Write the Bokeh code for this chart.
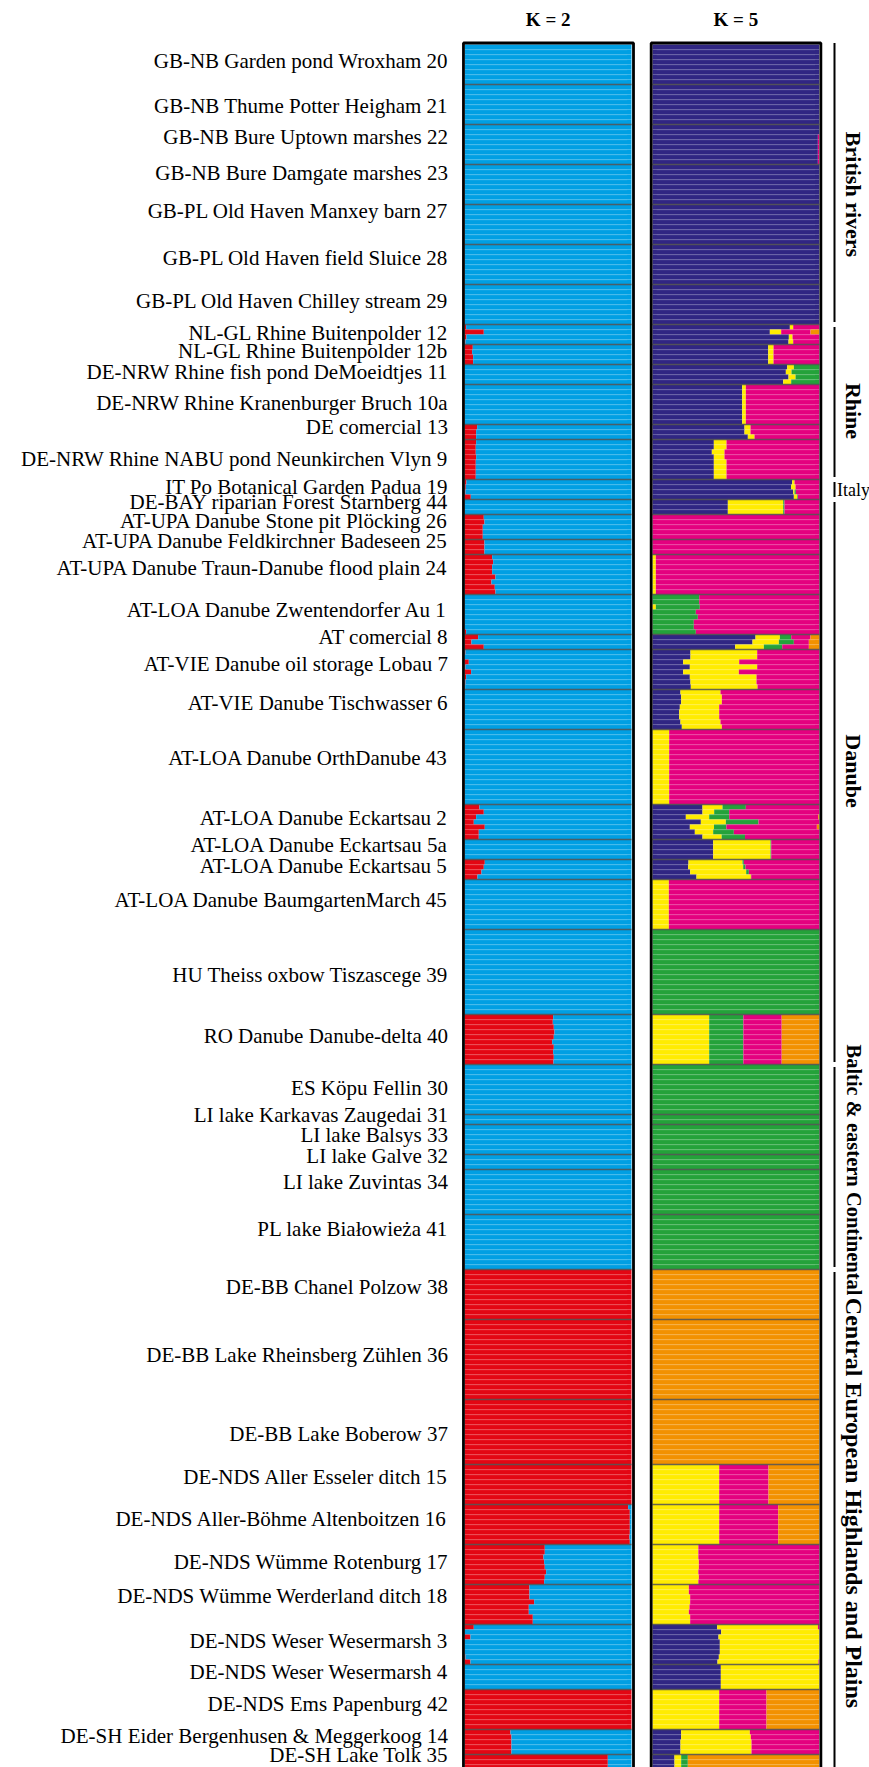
import numpy as np
from bokeh.plotting import figure
from bokeh.models import Range1d, ColumnDataSource
from bokeh.core.properties import value
from bokeh.embed import file_html
from bokeh.resources import INLINE


def R(v, n):
    return [v] * n


# ---------------- data ----------------
pop_labels = [
    "GB-NB Garden pond Wroxham 20", "GB-NB Thume Potter Heigham 21", "GB-NB Bure Uptown marshes 22",
    "GB-NB Bure Damgate marshes 23", "GB-PL Old Haven Manxey barn 27", "GB-PL Old Haven field Sluice 28",
    "GB-PL Old Haven Chilley stream 29",
    "NL-GL Rhine Buitenpolder 12", "NL-GL Rhine Buitenpolder 12b", "DE-NRW Rhine fish pond DeMoeidtjes 11",
    "DE-NRW Rhine Kranenburger Bruch 10a", "DE comercial 13", "DE-NRW Rhine NABU pond Neunkirchen Vlyn 9",
    "IT Po Botanical Garden Padua 19",
    "DE-BAY riparian Forest Starnberg 44", "AT-UPA Danube Stone pit Plöcking 26",
    "AT-UPA Danube Feldkirchner Badeseen 25", "AT-UPA Danube Traun-Danube flood plain 24",
    "AT-LOA Danube Zwentendorfer Au 1", "AT comercial 8", "AT-VIE Danube oil storage Lobau 7",
    "AT-VIE Danube Tischwasser 6", "AT-LOA Danube OrthDanube 43", "AT-LOA Danube Eckartsau 2",
    "AT-LOA Danube Eckartsau 5a", "AT-LOA Danube Eckartsau 5", "AT-LOA Danube BaumgartenMarch 45",
    "HU Theiss oxbow Tiszascege 39", "RO Danube Danube-delta 40",
    "ES Köpu Fellin 30", "LI lake Karkavas Zaugedai 31", "LI lake Balsys 33", "LI lake Galve 32",
    "LI lake Zuvintas 34", "PL lake Białowieża 41",
    "DE-BB Chanel Polzow 38", "DE-BB Lake Rheinsberg Zühlen 36", "DE-BB Lake Boberow 37",
    "DE-NDS Aller Esseler ditch 15", "DE-NDS Aller-Böhme Altenboitzen 16", "DE-NDS Wümme Rotenburg 17",
    "DE-NDS Wümme Werderland ditch 18", "DE-NDS Weser Wesermarsh 3", "DE-NDS Weser Wesermarsh 4",
    "DE-NDS Ems Papenburg 42", "DE-SH Eider Bergenhusen & Meggerkoog 14", "DE-SH Lake Tolk 35",
]
pop_sizes = [8, 8, 8, 8, 8, 8, 8,
             4, 4, 4, 8, 3, 8,
             4,
             3, 5, 3, 8, 8, 3, 8, 8, 15, 7, 4, 4, 10, 17, 10,
             10, 2, 6, 3, 9, 11,
             10, 16, 13, 8, 8, 8, 8, 8, 5, 8, 5, 4]

group_names = ["British rivers", "Rhine", "Italy", "Danube",
               "Baltic & eastern Continental", "Central European Highlands and Plains"]
group_npops = [7, 6, 1, 15, 6, 12]

# K = 2 : share of the red cluster per individual (blue = rest)
k2_red = [
    R(0, 8), R(0, 8), R(0, 8), R(0, 8), R(0, 8), R(0, 8), R(0, 8),
    [0.008, 0.114, 0.01, 0.004],
    [0.048, 0.044, 0.05, 0.05],
    R(0, 4),
    R(0, 8),
    [0.074, 0.068, 0.068],
    [0.068, 0.066, 0.066, 0.068, 0.066, 0.066, 0.066, 0.066],
    [0.01, 0.006, 0.004, 0.036],
    R(0, 3),
    [0.114, 0.118, 0.108, 0.108, 0.108],
    [0.118, 0.118, 0.118],
    [0.164, 0.17, 0.164, 0.164, 0.184, 0.16, 0.18, 0.184],
    [0, 0, 0, 0, 0, 0, 0, 0.008],
    [0.08, 0.04, 0.114],
    [0.004, 0.0, 0.024, 0.004, 0.038, 0.008, 0.004, 0.002],
    R(0, 8),
    R(0, 15),
    [0.088, 0.114, 0.068, 0.054, 0.12, 0.084, 0.084],
    R(0, 4),
    [0.12, 0.114, 0.1, 0.076],
    R(0, 10),
    R(0, 17),
    [0.53, 0.528, 0.534, 0.538, 0.534, 0.524, 0.534, 0.53, 0.534, 0.532],
    R(0, 10), R(0, 2), R(0, 6), R(0, 3), R(0, 9), R(0, 11),
    R(1, 10), R(1, 16), R(1, 13),
    R(1, 8),
    [0.98, 0.99, 0.99, 0.99, 0.99, 0.99, 0.988, 0.99],
    [0.48, 0.48, 0.472, 0.476, 0.48, 0.488, 0.48, 0.476],
    [0.388, 0.388, 0.388, 0.416, 0.384, 0.384, 0.408, 0.408],
    [0.054, 0.0, 0.034, 0.0, 0.0, 0.0, 0.004, 0.034],
    R(0, 5),
    R(1, 8),
    [0.274, 0.28, 0.28, 0.28, 0.28],
    R(0.858, 4),
]

# K = 5 : cluster shares per individual (navy, yellow, green, pink, orange)
k5_navy = [
    R(1, 8), R(1, 8), [1, 1, 0.992, 0.992, 0.992, 0.992, 0.992, 0.992], R(1, 8), R(1, 8), R(1, 8), R(1, 8),
    [0.824, 0.704, 0.818, 0.816],
    R(0.694, 4),
    [0.808, 0.8, 0.816, 0.784],
    R(0.538, 8),
    [0.552, 0.552, 0.572],
    [0.368, 0.368, 0.356, 0.368, 0.368, 0.368, 0.368, 0.368],
    [0.838, 0.832, 0.844, 0.848],
    R(0.452, 3),
    R(0, 5), R(0, 3), R(0, 8), R(0, 8),
    [0.618, 0.6, 0.496],
    [0.228, 0.228, 0.184, 0.224, 0.184, 0.224, 0.228, 0.23],
    [0.168, 0.172, 0.172, 0.164, 0.16, 0.16, 0.168, 0.176],
    R(0, 15),
    [0.30, 0.30, 0.20, 0.29, 0.224, 0.254, 0.30],
    R(0.364, 4),
    [0.216, 0.214, 0.226, 0.264],
    R(0, 10), R(0, 17), R(0, 10),
    R(0, 10), R(0, 2), R(0, 6), R(0, 3), R(0, 9), R(0, 11),
    R(0, 10), R(0, 16), R(0, 13),
    R(0, 8), R(0, 8), R(0, 8), R(0, 8),
    [0.388, 0.412, 0.396, 0.404, 0.404, 0.404, 0.398, 0.39],
    R(0.41, 5),
    R(0, 8),
    [0.172, 0.172, 0.168, 0.168, 0.168],
    R(0.132, 4),
]
k5_yellow = [
    R(0, 8), R(0, 8), R(0, 8), R(0, 8), R(0, 8), R(0, 8), R(0, 8),
    [0.02, 0.068, 0.022, 0.028],
    R(0.032, 4),
    [0.04, 0.034, 0.042, 0.048],
    R(0.022, 8),
    [0.036, 0.036, 0.04],
    [0.076, 0.076, 0.076, 0.064, 0.076, 0.076, 0.076, 0.076],
    [0.014, 0.026, 0.008, 0.02],
    R(0.332, 3),
    R(0, 5), R(0, 3),
    R(0.02, 8),
    [0, 0, 0.02, 0, 0, 0, 0, 0],
    [0.146, 0.158, 0.172],
    [0.4, 0.4, 0.336, 0.404, 0.334, 0.4, 0.396, 0.4],
    [0.24, 0.244, 0.244, 0.236, 0.24, 0.24, 0.24, 0.24],
    R(0.1, 15),
    [0.12, 0.07, 0.14, 0.15, 0.145, 0.11, 0.115],
    R(0.344, 4),
    [0.324, 0.33, 0.336, 0.326],
    R(0.098, 10),
    R(0, 17),
    R(0.34, 10),
    R(0, 10), R(0, 2), R(0, 6), R(0, 3), R(0, 9), R(0, 11),
    R(0, 10), R(0, 16), R(0, 13),
    R(0.4, 8), R(0.4, 8),
    [0.275, 0.275, 0.275, 0.278, 0.278, 0.275, 0.278, 0.275],
    [0.218, 0.218, 0.226, 0.226, 0.222, 0.218, 0.226, 0.226],
    [0.604, 0.588, 0.604, 0.596, 0.596, 0.596, 0.602, 0.606],
    R(0.59, 5),
    R(0.4, 8),
    [0.412, 0.418, 0.426, 0.426, 0.426],
    R(0.04, 4),
]
k5_green = [
    R(0, 8), R(0, 8), R(0, 8), R(0, 8), R(0, 8), R(0, 8), R(0, 8),
    R(0, 4), R(0, 4),
    [0.152, 0.166, 0.142, 0.168],
    R(0, 8), R(0, 3), R(0, 8),
    [0, 0, 0.008, 0.004],
    R(0.008, 3),
    R(0, 5), R(0, 3), R(0, 8),
    [0.28, 0.28, 0.264, 0.26, 0.272, 0.248, 0.248, 0.26],
    [0.068, 0.09, 0.11],
    R(0, 8), R(0, 8), R(0, 15),
    [0.14, 0.09, 0.12, 0.196, 0.074, 0.124, 0.14],
    R(0.004, 4),
    [0.008, 0.014, 0.016, 0.002],
    R(0, 10),
    R(1, 17),
    R(0.205, 10),
    R(1, 10), R(1, 2), R(1, 6), R(1, 3), R(1, 9), R(1, 11),
    R(0, 10), R(0, 16), R(0, 13),
    R(0, 8), R(0, 8), R(0, 8), R(0, 8), R(0, 8), R(0, 5), R(0, 8), R(0, 5),
    R(0.04, 4),
]
k5_pink = [
    R(0, 8), R(0, 8), [0, 0, 0.008, 0.008, 0.008, 0.008, 0.008, 0.008], R(0, 8), R(0, 8), R(0, 8), R(0, 8),
    [0.156, 0.176, 0.16, 0.156],
    R(0.274, 4),
    R(0, 4),
    R(0.44, 8),
    [0.412, 0.412, 0.388],
    [0.556, 0.556, 0.568, 0.568, 0.556, 0.556, 0.556, 0.556],
    [0.148, 0.142, 0.14, 0.128],
    R(0.208, 3),
    R(1, 5), R(1, 3),
    R(0.98, 8),
    [0.72, 0.72, 0.716, 0.74, 0.728, 0.752, 0.752, 0.74],
    [0.116, 0.09, 0.16],
    [0.372, 0.372, 0.48, 0.372, 0.482, 0.376, 0.376, 0.37],
    [0.592, 0.584, 0.584, 0.6, 0.6, 0.6, 0.592, 0.584],
    R(0.9, 15),
    [0.44, 0.54, 0.534, 0.364, 0.543, 0.512, 0.445],
    R(0.288, 4),
    [0.452, 0.442, 0.422, 0.408],
    R(0.902, 10),
    R(0, 17),
    R(0.23, 10),
    R(0, 10), R(0, 2), R(0, 6), R(0, 3), R(0, 9), R(0, 11),
    R(0, 10), R(0, 16), R(0, 13),
    R(0.296, 8), R(0.354, 8),
    [0.725, 0.725, 0.725, 0.722, 0.722, 0.725, 0.722, 0.725],
    [0.782, 0.782, 0.774, 0.774, 0.778, 0.782, 0.774, 0.774],
    [0.008, 0, 0, 0, 0, 0, 0, 0.004],
    R(0, 5),
    R(0.284, 8),
    [0.416, 0.41, 0.406, 0.406, 0.406],
    R(0, 4),
]
k5_orange = [
    R(0, 8), R(0, 8), R(0, 8), R(0, 8), R(0, 8), R(0, 8), R(0, 8),
    [0, 0.052, 0, 0],
    R(0, 4), R(0, 4), R(0, 8), R(0, 3), R(0, 8),
    R(0, 4),
    R(0, 3), R(0, 5), R(0, 3), R(0, 8), R(0, 8),
    [0.052, 0.062, 0.062],
    R(0, 8), R(0, 8), R(0, 15),
    [0, 0, 0.006, 0, 0.014, 0, 0],
    R(0, 4), R(0, 4), R(0, 10), R(0, 17),
    R(0.225, 10),
    R(0, 10), R(0, 2), R(0, 6), R(0, 3), R(0, 9), R(0, 11),
    R(1, 10), R(1, 16), R(1, 13),
    R(0.304, 8), R(0.246, 8),
    R(0, 8), R(0, 8), R(0, 8), R(0, 5),
    R(0.316, 8),
    R(0, 5),
    R(0.788, 4),
]

# ---------------- layout (page pixels) ----------------
label_nudge_px = [-2, 3, -6, -10, -12, -5, -2,
                  0, -2, -1, 0, -3.5, 0.7,
                  -1,
                  -3.5, -4.8, -4.8, -5, -3, -3.5, -4, -5, -7.5, -2.5, -3, -2, -3, 4.5, -2,
                  0, -3, -3, -4.5, -8.5, -11.5,
                  -6, -3, 3.5, -6, -4, -1, -7, -2, -3.5, -4, -4.5, -8]
LABEL_SHIFT_PX = -1.5
group_label_nudge_px = [10, 9, 0, -11, 3, -19]
group_label_size = ["22px", "22px", "18px", "22px", "20.5px", "24px"]

W, H = 869, 1767
TOP_PAGE = 44.0      # page y of the first individual's top edge
ROW_PX = 5.0
X0_PAGE = 464.3      # page x of K=2 bar start
UNIT_PX = 166.7
K5_OFF = (652.0 - X0_PAGE) / UNIT_PX


def px_x(page_x):
    return (page_x - X0_PAGE) / UNIT_PX


def px_y(page_y):
    return (TOP_PAGE - page_y) / ROW_PX


BLUE, RED = "#009FE3", "#E30613"
K5_COLORS = ["#302683", "#FFEC00", "#24A23A", "#E4007F", "#F29100"]
SERIF = value("Liberation Serif")

p = figure(width=W, height=H, output_backend="svg", toolbar_location=None,
           x_range=Range1d(px_x(0), px_x(W)), y_range=Range1d(px_y(H), px_y(0)),
           x_axis_type=None, y_axis_type=None, min_border=0,
           outline_line_color=None, background_fill_color="white", border_fill_color="white")

starts = np.cumsum([0] + pop_sizes)[:-1]
bars = dict(y=[], left=[], right=[], color=[])
for pi, n in enumerate(pop_sizes):
    for j in range(n):
        i = starts[pi] + j
        yc = -(i + 0.5)
        r = k2_red[pi][j]
        for l, rr, c in [(0.0, r, RED), (r, 1.0, BLUE)]:
            if rr - l > 1e-6:
                bars["y"].append(yc); bars["left"].append(l); bars["right"].append(rr); bars["color"].append(c)
        comps = [k5_navy[pi][j], k5_yellow[pi][j], k5_green[pi][j], k5_pink[pi][j], k5_orange[pi][j]]
        tot = sum(comps)
        cum = 0.0
        for q, c in zip(comps, K5_COLORS):
            if q > 0:
                bars["y"].append(yc); bars["left"].append(K5_OFF + cum / tot)
                bars["right"].append(K5_OFF + (cum + q) / tot); bars["color"].append(c)
            cum += q

p.hbar(y="y", height=1, left="left", right="right", fill_color="color", line_color=None,
       source=ColumnDataSource(bars))

# faint individual separators
pop_start_set = set(int(s) for s in starts)
total = int(sum(pop_sizes))
ind_y = [-i - 0.1 for i in range(1, total) if i not in pop_start_set]
for off in (0.0, K5_OFF):
    p.segment(x0=[off + 0.025] * len(ind_y), x1=[off + 0.975] * len(ind_y), y0=ind_y, y1=ind_y,
              line_color="white", line_alpha=0.09, line_width=1)

# population separators
sep_y = [-float(s) for s in starts[1:]]
for off in (0.0, K5_OFF):
    p.segment(x0=[off] * len(sep_y), x1=[off + 1] * len(sep_y), y0=sep_y, y1=sep_y,
              line_color="#4f4f4f", line_alpha=0.85, line_width=1.6)

# panel frames
border_top = px_y(42.5)
p.quad(left=[-0.008, K5_OFF - 0.008], right=[1.012, K5_OFF + 1.01], top=[border_top] * 2,
       bottom=[px_y(1800)] * 2, fill_color=None, line_color="black", line_width=2.8)

# headers
p.text(x=[0.5, K5_OFF + 0.5], y=[px_y(18.5)] * 2, text=["K = 2", "K = 5"],
       text_font=SERIF, text_font_size="19px", text_font_style="bold",
       text_align="center", text_baseline="middle", text_color="#000000")

# population labels
lab_y = [-(starts[k] + pop_sizes[k] / 2.0) - (label_nudge_px[k] + LABEL_SHIFT_PX) / ROW_PX
         for k in range(len(pop_sizes))]
p.text(x=[px_x(447.5)] * len(pop_labels), y=lab_y, text=pop_labels,
       text_font=SERIF, text_font_size="21px",
       text_align="right", text_baseline="middle", text_color="#000000")

# group brackets and labels
gx = px_x(834)
pop_start_rows = list(starts) + [total]
gi0 = 0
for g, (gname, gn) in enumerate(zip(group_names, group_npops)):
    r0 = pop_start_rows[gi0]
    r1 = pop_start_rows[gi0 + gn]
    gi0 += gn
    y0 = border_top if g == 0 else -(r0 + 0.5)
    y1 = -(r1 - 0.5)
    if g == len(group_names) - 1:
        y1 = px_y(1800)
    p.segment(x0=[gx], x1=[gx], y0=[y0], y1=[y1], line_color="black", line_width=2)
    yc = -(r0 + r1) / 2.0 - group_label_nudge_px[g] / ROW_PX
    if gname == "Italy":
        p.text(x=[px_x(836.5)], y=[yc], text=[gname], text_font=SERIF,
               text_font_size=group_label_size[g], text_align="left", text_baseline="middle",
               text_color="#000000")
    else:
        p.text(x=[px_x(853)], y=[yc], text=[gname], angle=-np.pi / 2,
               text_font=SERIF, text_font_size=group_label_size[g], text_font_style="bold",
               text_align="center", text_baseline="middle", text_color="#000000")

open("out.html", "w").write(file_html(p, INLINE))
